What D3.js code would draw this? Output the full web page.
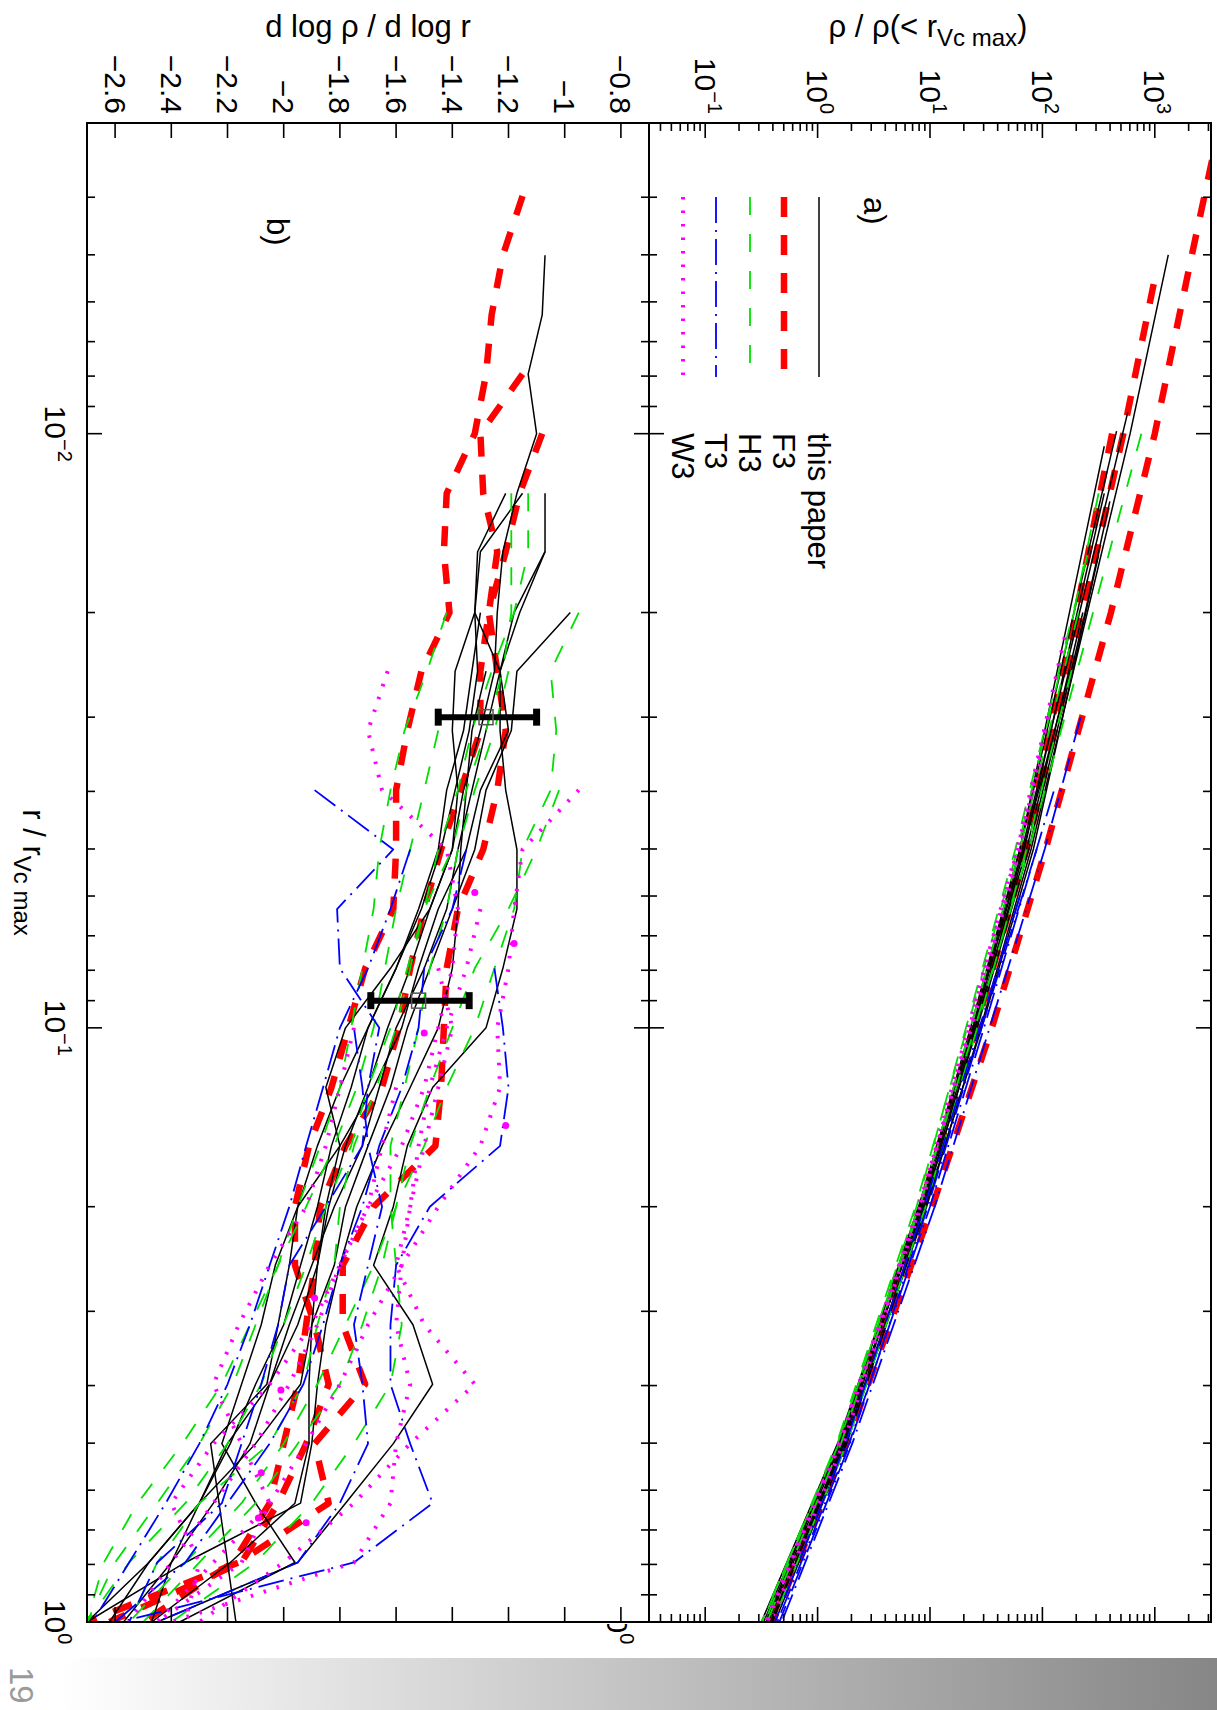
<!DOCTYPE html>
<html><head><meta charset="utf-8">
<script src="https://cdn.jsdelivr.net/npm/d3@7"></script>
<style>body{margin:0;background:#fff;} svg{display:block;font-family:"Liberation Sans",Arial,Helvetica,sans-serif;}</style>
</head><body><svg id="c" width="1217" height="1710"></svg>
<script>
const N = null;
// ---- shared radius grid r / r_Vc max (panel b) ----
const rGrid = [0.00316,0.00398,0.00501,0.00631,0.00794,0.01,0.0126,0.0158,0.02,0.0251,0.0316,0.0398,0.0501,0.0631,0.0794,0.1,0.126,0.158,0.2,0.251,0.316,0.398,0.501,0.631,0.794,1];

// ---- panel b : d log rho / d log r ----
const slopeThisPaper = [
 [N,N,-1.07,-1.08,-1.13,-1.10,-1.17,-1.22,-1.24,-1.25,-1.30,-1.36,-1.40,-1.48,-1.55,-1.63,-1.70,-1.78,-1.84,-1.88,-1.95,-2.05,-2.12,-2.25,-2.40,-2.57],
 [N,N,N,N,N,N,-1.07,-1.07,-1.16,-1.23,-1.28,-1.33,-1.38,-1.42,-1.50,-1.60,-1.66,-1.72,-1.82,-1.90,-1.98,-2.05,-2.20,-2.30,-2.40,-2.47],
 [N,N,N,N,N,N,-1.21,-1.31,-1.32,-1.23,-1.20,-1.30,-1.35,-1.45,-1.52,-1.58,-1.68,-1.80,-1.95,-2.03,-2.08,-2.15,-2.22,-2.10,-1.96,-2.37],
 [N,N,N,N,N,N,N,-1.07,-1.18,-1.23,-1.23,-1.21,-1.17,-1.17,-1.22,-1.28,-1.47,-1.56,-1.61,-1.68,-1.54,-1.47,-1.61,-1.78,-1.95,-2.45],
 [N,N,N,N,N,N,N,N,-0.98,-1.17,-1.19,-1.28,-1.32,-1.40,-1.48,-1.56,-1.62,-1.70,-1.78,-1.82,-1.90,-1.94,-2.10,-2.30,-2.48,-2.70],
 [N,N,N,N,N,N,-1.15,-1.30,-1.32,-1.31,-1.34,-1.39,-1.44,-1.51,-1.60,-1.70,-1.76,-1.83,-1.88,-1.94,-2.00,-2.10,-2.19,-2.30,-2.48,-2.62],
 [N,N,N,N,N,N,N,N,-1.32,-1.39,-1.40,-1.38,-1.40,-1.48,-1.62,-1.78,-1.85,-1.80,-1.85,-1.88,-1.90,-1.91,-1.91,-1.96,-2.19,-2.47],
 [N,N,N,N,N,N,N,N,-1.30,-1.33,-1.36,-1.42,-1.45,-1.52,-1.60,-1.70,-1.80,-1.88,-1.95,-1.98,-2.02,-2.06,-2.26,-2.23,-2.20,-2.17],
 [N,N,N,N,N,N,N,N,N,-1.28,-1.33,-1.35,-1.37,-1.38,-1.40,-1.45,-1.55,-1.65,-1.74,-1.80,-1.85,-1.88,-1.90,-1.94,-2.35,-2.70]
];
const slopeF3 = [
 [N,-1.15,-1.22,-1.26,-1.28,-1.32,-1.42,-1.43,-1.41,-1.51,-1.56,-1.60,-1.60,-1.61,-1.71,-1.77,-1.83,-1.91,-1.96,-1.96,-1.89,-1.84,-1.92,-2.02,-2.15,-2.62],
 [N,N,N,N,-1.15,-1.30,-1.29,-1.24,-1.27,-1.30,-1.30,-1.37,-1.44,-1.50,-1.55,-1.59,-1.65,-1.78,-1.87,-1.89,-1.92,-1.95,-2.00,-2.05,-2.18,-2.50],
 [N,N,N,N,N,-1.08,-1.16,-1.21,-1.27,-1.24,-1.21,-1.24,-1.29,-1.38,-1.42,-1.43,-1.44,-1.46,-1.68,-1.79,-1.79,-1.71,-1.89,-1.84,-2.16,-2.70]
];
const slopeH3 = [
 [N,N,N,N,N,N,-1.19,-1.19,-1.19,-1.22,-1.28,-1.35,-1.40,-1.50,-1.55,-1.60,-1.67,-1.75,-1.80,-1.82,-1.88,-1.93,-2.05,-2.30,-2.45,-2.55],
 [N,N,N,N,N,N,N,N,-0.95,-1.05,-1.03,-1.05,-1.15,-1.18,-1.25,-1.32,-1.42,-1.50,-1.60,-1.65,-1.72,-1.80,-1.95,-2.10,-2.30,-2.50],
 [N,N,N,N,N,N,N,N,-1.42,-1.49,-1.57,-1.62,-1.66,-1.68,-1.72,-1.76,-1.80,-1.87,-1.95,-2.02,-2.10,-2.18,-2.30,-2.45,-2.60,-2.70],
 [N,N,N,N,N,N,-1.13,-1.13,-1.18,-1.26,-1.33,-1.38,-1.45,-1.50,-1.56,-1.62,-1.70,-1.76,-1.85,-1.92,-2.00,-2.08,-2.20,-2.35,-2.55,-2.70],
 [N,N,N,N,N,N,N,N,N,N,N,-1.02,-1.10,-1.20,-1.32,-1.40,-1.48,-1.55,-1.60,-1.68,-1.78,-1.88,-2.00,-2.15,-2.35,-2.55],
 [N,N,N,N,N,N,N,N,N,-1.20,-1.25,-1.32,-1.38,-1.42,-1.48,-1.52,-1.57,-1.62,-1.62,-1.60,-1.58,-1.62,-1.75,-1.90,-2.10,-2.40],
 [N,N,N,N,N,N,N,N,N,N,-1.45,-1.50,-1.55,-1.60,-1.64,-1.68,-1.74,-1.82,-1.92,-2.02,-2.12,-2.22,-2.36,-2.52,-2.64,-2.70]
];
const slopeT3 = [
 [N,N,N,N,N,N,N,N,N,N,N,-1.89,-1.61,-1.81,-1.80,-1.66,-1.70,-1.72,-1.85,-1.98,-2.02,-2.08,-2.15,-2.22,-2.45,-2.55],
 [N,N,N,N,N,N,N,N,N,N,N,N,-1.35,-1.40,-1.50,-1.52,-1.58,-1.66,-1.72,-1.80,-1.86,-1.93,-2.05,-2.20,-2.35,-2.60],
 [N,N,N,N,N,N,N,N,N,N,N,N,N,N,-1.25,-1.22,-1.20,-1.23,-1.48,-1.60,-1.62,-1.62,-1.55,-1.47,-1.75,-2.58],
 [N,N,N,N,N,N,N,N,N,N,N,N,N,N,N,-1.75,-1.72,-1.70,-1.65,-1.70,-1.75,-1.72,-1.70,-1.80,-1.95,-2.45],
 [N,N,N,N,N,N,N,N,N,N,N,N,-1.55,-1.62,-1.70,-1.80,-1.86,-1.92,-1.98,-2.05,-2.12,-2.20,-2.30,-2.42,-2.55,-2.68]
];
const slopeW3 = [
 [N,N,N,N,N,N,N,N,N,-1.63,-1.70,-1.65,-1.42,-1.38,-1.40,-1.45,-1.50,-1.58,-1.70,-1.80,-1.88,-1.98,-2.10,-2.25,-2.40,-2.55],
 [N,N,N,N,N,N,N,N,N,N,N,-0.95,-1.15,-1.18,-1.20,-1.24,-1.23,-1.30,-1.45,-1.58,-1.70,-1.80,-1.92,-2.05,-2.25,-2.45],
 [N,N,N,N,N,N,N,N,N,N,N,N,N,N,-1.45,-1.40,-1.45,-1.50,-1.55,-1.60,-1.50,-1.32,-1.55,-1.75,-2.00,-2.30],
 [N,N,N,N,N,N,N,N,N,N,N,N,N,N,N,-1.75,-1.80,-1.85,-1.92,-2.05,-2.16,-2.25,-2.15,-2.05,-2.15,-2.45],
 [N,N,N,N,N,N,N,N,N,N,N,N,N,N,N,N,-1.60,-1.65,-1.70,-1.80,-1.90,-2.05,-2.25,-2.40,-2.30,-2.35],
 [N,N,N,N,N,N,N,N,N,N,N,N,N,-1.30,-1.35,-1.42,-1.48,-1.52,-1.55,-1.58,-1.60,-1.55,-1.60,-1.62,-1.75,-2.40]
];
const w3Dots = [[0.0592,-1.32],[0.0721,-1.18],[0.102,-1.50],[0.146,-1.21],[0.285,-1.89],[0.407,-2.01],[0.561,-2.08],[0.668,-2.09],[0.681,-1.92]];
const errR = [0.030, 0.090];
const errMean = [-1.28, -1.52];
const errLo = [-1.45, -1.69];
const errHi = [-1.10, -1.34];

// ---- panel a : rho / rho(< r_Vc max), pairs [r, value] ----
const densThisPaper = [
 [[0.005,1318],[0.01,603],[0.02,251],[0.05,79.4],[0.1,28.2],[0.2,9.33],[0.5,1.78],[1,0.380]],
 [[0.0092,575],[0.02,214],[0.05,66.1],[0.1,24.0],[0.2,7.94],[0.5,1.55],[1,0.347]],
 [[0.0099,457],[0.02,191],[0.05,63.1],[0.1,22.9],[0.2,8.13],[0.5,1.66],[1,0.398]],
 [[0.0105,355],[0.02,174],[0.05,63.1],[0.1,24.0],[0.2,8.32],[0.5,1.70],[1,0.363]],
 [[0.013,398],[0.02,240],[0.05,75.9],[0.1,26.3],[0.2,8.71],[0.5,1.58],[1,0.331]],
 [[0.0126,355],[0.02,204],[0.05,69.2],[0.1,25.7],[0.2,8.91],[0.5,1.74],[1,0.389]],
 [[0.016,316],[0.05,83.2],[0.1,28.8],[0.2,9.12],[0.5,1.82],[1,0.417]],
 [[0.02,229],[0.05,72.4],[0.1,25.1],[0.2,8.51],[0.5,1.62],[1,0.355]],
 [[0.025,178],[0.05,67.6],[0.1,24.5],[0.2,7.94],[0.5,1.51],[1,0.316]]
];
const densF3 = [
 [[0.003,3802],[0.005,2138],[0.01,1000],[0.02,407],[0.05,107],[0.1,35.5],[0.2,10.5],[0.5,1.82],[1,0.398]],
 [[0.0056,977],[0.01,525],[0.02,229],[0.05,72.4],[0.1,25.7],[0.2,8.51],[0.5,1.66],[1,0.380]],
 [[0.01,417],[0.02,200],[0.05,67.6],[0.1,24.5],[0.2,8.32],[0.5,1.62],[1,0.363]]
];
const densH3 = [
 [[0.01,759],[0.02,282],[0.05,75.9],[0.1,25.1],[0.2,7.94],[0.5,1.51],[1,0.339]],
 [[0.0126,316],[0.02,191],[0.05,60.3],[0.1,21.4],[0.2,7.41],[0.5,1.48],[1,0.324]],
 [[0.016,251],[0.05,57.5],[0.1,20.9],[0.2,7.59],[0.5,1.55],[1,0.316]],
 [[0.02,209],[0.05,63.1],[0.1,22.9],[0.2,8.13],[0.5,1.62],[1,0.355]],
 [[0.025,182],[0.05,72.4],[0.1,26.3],[0.2,9.12],[0.5,1.82],[1,0.398]]
];
const densT3 = [
 [[0.03,219],[0.05,105],[0.1,33.9],[0.2,11.0],[0.5,2.04],[1,0.479]],
 [[0.04,126],[0.1,30.2],[0.2,10.0],[0.5,1.91],[1,0.437]],
 [[0.05,89.1],[0.1,28.8],[0.2,9.55],[0.5,1.95],[1,0.457]],
 [[0.06,63.1],[0.1,27.5],[0.2,8.91],[0.5,1.78],[1,0.417]]
];
const densW3 = [
 [[0.022,158],[0.05,60.3],[0.1,22.4],[0.2,8.32],[0.5,1.58],[1,0.355]],
 [[0.03,112],[0.05,63.1],[0.1,23.4],[0.2,7.94],[0.5,1.55],[1,0.347]],
 [[0.036,95.5],[0.1,21.9],[0.2,8.13],[0.5,1.70],[1,0.380]]
];

// ---- axis tick values / labels ----
const rMajor = [0.01, 0.1, 1];
const rMajorLabels = [["10","\u22122"],["10","\u22121"],["10","0"]];
const aMajor = [0.1, 1, 10, 100, 1000];
const aMajorLabels = [["10","\u22121"],["10","0"],["10","1"],["10","2"],["10","3"]];
const bTicks = [-2.6,-2.4,-2.2,-2.0,-1.8,-1.6,-1.4,-1.2,-1.0,-0.8];
const legendNames = ["this paper","F3","H3","T3","W3"];

// ---- styles ----
const styles = {
  thisPaper:{stroke:"#000000", width:1.5, dash:null},
  F3:{stroke:"#ff0000", width:6.5, dash:"20,18"},
  H3:{stroke:"#00e000", width:1.8, dash:"18,19"},
  T3:{stroke:"#0000ff", width:1.8, dash:"26,7,2,7"},
  W3:{stroke:"#ff00ff", width:4, dash:"2.5,11"}
};

const svg = d3.select("#c");
const defs = svg.append("defs");
svg.append("rect").attr("width",1217).attr("height",1710).attr("fill","#ffffff");

// bottom gradient band + page number
const grad = defs.append("linearGradient").attr("id","band").attr("x1",0).attr("x2",1).attr("y1",0).attr("y2",0);
grad.append("stop").attr("offset","0.05").attr("stop-color","#ffffff");
grad.append("stop").attr("offset","1").attr("stop-color","#868686");
svg.append("rect").attr("x",0).attr("y",1658).attr("width",1217).attr("height",52).attr("fill","url(#band)");
svg.append("text").attr("transform","translate(10,1667) rotate(90)").attr("font-size",33).attr("fill","#9a9a9a").text("19");

// ---- rotated plot group: original (u,v) -> page (1217 - v, u) ----
const g = svg.append("g").attr("transform","translate(1217,0) rotate(90)");
const U0 = 123, U1 = 1622;
const A0 = 6, A1 = 568, B0 = 568, B1 = 1130;
const uS = d3.scaleLog().domain([0.003, 1]).range([U0, U1]);
const aS = d3.scaleLog().domain([0.031623, 3162.3]).range([A1, A0]);
const bS = d3.scaleLinear().domain([-2.7, -0.7]).range([B1, B0]);

defs.append("clipPath").attr("id","clipA").append("rect").attr("x",U0).attr("y",A0).attr("width",U1-U0).attr("height",A1-A0);
defs.append("clipPath").attr("id","clipB").append("rect").attr("x",U0).attr("y",B0).attr("width",U1-U0).attr("height",B1-B0);
defs.append("clipPath").attr("id","clipLbl").append("rect").attr("x",U1+2).attr("y",0).attr("width",200).attr("height",1217);

function styleLine(sel, st){
  sel.attr("fill","none").attr("stroke",st.stroke).attr("stroke-width",st.width)
     .attr("stroke-linejoin","round");
  if(st.dash) sel.attr("stroke-dasharray",st.dash);
  return sel;
}

// panel a lines
const gA = g.append("g").attr("clip-path","url(#clipA)");
const lineA = d3.line().x(d=>uS(d[0])).y(d=>aS(d[1]));
[["F3",densF3],["thisPaper",densThisPaper],["H3",densH3],["T3",densT3],["W3",densW3]].forEach(([k,arr])=>{
  arr.forEach(s=>styleLine(gA.append("path").attr("d",lineA(s)), styles[k]));
});

// panel b lines
const gB = g.append("g").attr("clip-path","url(#clipB)");
const lineB = d3.line().x(d=>uS(d[0])).y(d=>bS(d[1]));
function toPairs(vals){ return rGrid.map((r,i)=>[r, vals[i]]).filter(d=>d[1]!==null); }
[["F3",slopeF3],["thisPaper",slopeThisPaper],["H3",slopeH3],["T3",slopeT3],["W3",slopeW3]].forEach(([k,arr])=>{
  arr.forEach(s=>styleLine(gB.append("path").attr("d",lineB(toPairs(s))), styles[k]));
});
gB.selectAll("circle.wd").data(w3Dots).enter().append("circle")
  .attr("cx",d=>uS(d[0])).attr("cy",d=>bS(d[1])).attr("r",3.5).attr("fill","#ff00ff");

// error bars
errR.forEach((r,i)=>{
  const u = uS(r);
  gB.append("line").attr("x1",u).attr("x2",u).attr("y1",bS(errLo[i])).attr("y2",bS(errHi[i]))
    .attr("stroke","#000").attr("stroke-width",6);
  [errLo[i], errHi[i]].forEach(v=>{
    gB.append("rect").attr("x",u-8.5).attr("y",bS(v)-3.5).attr("width",17).attr("height",7).attr("fill","#000");
  });
  gB.append("rect").attr("x",u-7.5).attr("y",bS(errMean[i])-7).attr("width",15).attr("height",14)
    .attr("fill","none").attr("stroke","#555").attr("stroke-width",1.5);
});

// frames
g.append("rect").attr("x",U0).attr("y",A0).attr("width",U1-U0).attr("height",A1-A0).attr("fill","none").attr("stroke","#000").attr("stroke-width",2);
g.append("rect").attr("x",U0).attr("y",B0).attr("width",U1-U0).attr("height",B1-B0).attr("fill","none").attr("stroke","#000").attr("stroke-width",2);

// ticks
const tk = g.append("g").attr("stroke","#000").attr("stroke-width",1.6);
const MAJ = 15, MIN = 8;
function rMinorList(){ const out=[]; [0.001,0.01,0.1].forEach(d=>{ for(let k=2;k<=9;k++){ const v=k*d; if(v>0.0031 && v<1) out.push(v);} }); return out; }
const rMinor = rMinorList();
function rTick(r,len){
  const u=uS(r);
  tk.append("line").attr("x1",u).attr("x2",u).attr("y1",B1).attr("y2",B1-len);
  tk.append("line").attr("x1",u).attr("x2",u).attr("y1",B0-len).attr("y2",B0+len);
  tk.append("line").attr("x1",u).attr("x2",u).attr("y1",A0).attr("y2",A0+len);
}
rMajor.forEach(r=>rTick(r,MAJ));
rMinor.forEach(r=>rTick(r,MIN));
function vTick(v,len){
  tk.append("line").attr("x1",U0).attr("x2",U0+len).attr("y1",v).attr("y2",v);
  tk.append("line").attr("x1",U1).attr("x2",U1-len).attr("y1",v).attr("y2",v);
}
aMajor.forEach(t=>vTick(aS(t),MAJ));
[0.01,0.1,1,10,100,1000].forEach(d=>{ for(let k=2;k<=9;k++){ const v=k*d; if(v>0.032 && v<3162) vTick(aS(v),MIN);} });
bTicks.forEach(t=>vTick(bS(t),MAJ));

// tick labels
const FS = 30, SUP = 20;
const lab = g.append("g").attr("font-size",FS).attr("fill","#000");
function powLabel(parent, x, y, anchor, parts){
  const t = parent.append("text").attr("x",x).attr("y",y).attr("text-anchor",anchor);
  t.append("tspan").text(parts[0]);
  t.append("tspan").attr("font-size",SUP).attr("dy",-13).text(parts[1]);
  return t;
}
rMajor.forEach((r,i)=>powLabel(lab, uS(r), B1+42, "middle", rMajorLabels[i]));
aMajor.forEach((t,i)=>powLabel(lab, U0-9, aS(t)+10.5, "end", aMajorLabels[i]));
bTicks.forEach(t=>lab.append("text").attr("x",U0-9).attr("y",bS(t)+10.5).attr("text-anchor","end").text(d3.format("~g")(t)));
// panel a r-axis label at r=1, mostly hidden behind panel b
powLabel(lab.append("g").attr("clip-path","url(#clipLbl)"), uS(1), A1+42, "middle", rMajorLabels[2]);

// r-axis title (rotated in page)
const rt = g.append("text").attr("x",(U0+U1)/2).attr("y",B1+64).attr("text-anchor","middle").attr("font-size",31);
rt.append("tspan").text("r / r");
rt.append("tspan").attr("font-size",24).attr("dy",9).text("Vc max");

// legend
const legV = [398,433,467,501,534];
const legKeys = ["thisPaper","F3","H3","T3","W3"];
legKeys.forEach((k,i)=>{
  styleLine(g.append("line").attr("x1",197).attr("x2",377).attr("y1",legV[i]).attr("y2",legV[i]), styles[k]);
  g.append("text").attr("x",433).attr("y",legV[i]+11).attr("font-size",31).text(legendNames[i]);
});
g.append("text").attr("x",197).attr("y",353).attr("font-size",31).text("a)");
g.append("text").attr("x",218).attr("y",950).attr("font-size",31).text("b)");

// upright titles (page coords)
svg.append("text").attr("x",368).attr("y",37).attr("text-anchor","middle").attr("font-size",31).text("d log \u03c1 / d log r");
const ta = svg.append("text").attr("x",928).attr("y",37).attr("text-anchor","middle").attr("font-size",31);
ta.append("tspan").text("\u03c1 / \u03c1(< r");
ta.append("tspan").attr("font-size",24).attr("dy",9).text("Vc max");
ta.append("tspan").attr("dy",-9).text(")");
</script>
</body></html>
